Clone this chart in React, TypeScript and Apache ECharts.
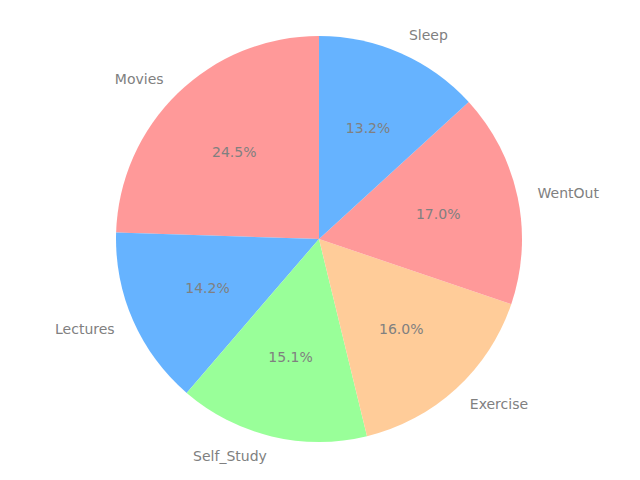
import React, { useEffect, useRef } from "react";
import * as echarts from "echarts";

const categories = ["Movies", "Lectures", "Self_Study", "Exercise", "WentOut", "Sleep"];
const values = [24.5, 14.2, 15.1, 16.0, 17.0, 13.2];
const colors = ["#ff9999", "#66b3ff", "#99ff99", "#ffcc99", "#ff9999", "#66b3ff"];

const R = 203;
const CX = 319;
const CY = 239;
const TEXT_COLOR = "#808080";
const FONT = "DejaVu Sans";

export default function App() {
  const ref = useRef<HTMLDivElement>(null);
  useEffect(() => {
    document.body.style.margin = "0";
    const chart = echarts.init(ref.current!, null, { renderer: "svg" });
    const data = categories.map((name, i) => ({
      name,
      value: values[i],
      itemStyle: { color: colors[i] },
    }));
    chart.setOption({
      animation: false,
      backgroundColor: "#ffffff",
      series: [
        {
          type: "pie",
          center: [CX, CY],
          radius: [0, R],
          startAngle: 90,
          clockwise: false,
          avoidLabelOverlap: false,
          silent: true,
          data,
          label: {
            show: true,
            position: "outside",
            color: TEXT_COLOR,
            fontFamily: FONT,
            fontSize: 14,
            distanceToLabelLine: 0,
            formatter: "{b}",
          },
          labelLine: { show: false, length: R * 0.1, length2: 0 },
          emphasis: { disabled: true },
        },
        {
          type: "pie",
          center: [CX, CY],
          radius: [0, R * 1.2 - 6],
          startAngle: 90,
          clockwise: false,
          avoidLabelOverlap: false,
          silent: true,
          data: categories.map((name, i) => ({
            name,
            value: values[i],
            itemStyle: { color: "rgba(0,0,0,0)" },
          })),
          label: {
            show: true,
            position: "inside",
            color: TEXT_COLOR,
            fontFamily: FONT,
            fontSize: 14,
            formatter: (p: any) => Number(p.value).toFixed(1) + "%",
          },
          labelLine: { show: false },
          emphasis: { disabled: true },
        },
      ],
    });
    return () => chart.dispose();
  }, []);
  return <div ref={ref} style={{ width: 640, height: 480 }} />;
}
